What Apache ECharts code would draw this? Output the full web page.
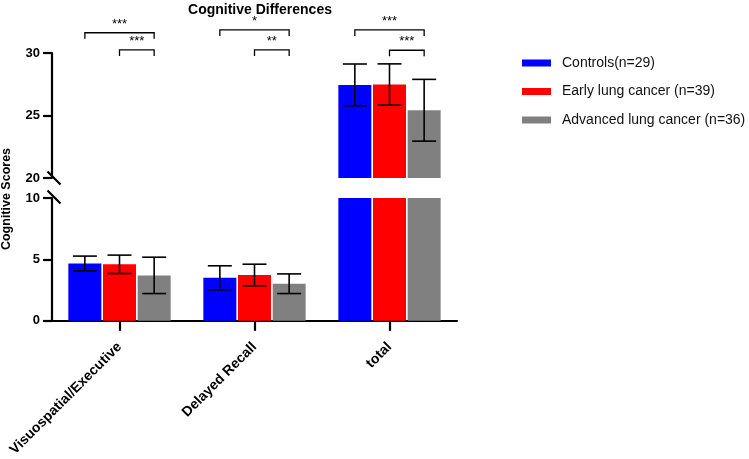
<!DOCTYPE html>
<html>
<head>
<meta charset="utf-8">
<script src="https://cdn.jsdelivr.net/npm/echarts@6/dist/echarts.min.js"></script>
<style>html,body{margin:0;padding:0;background:#fff;}#c{width:749px;height:459px;}</style>
</head>
<body>
<div id="c"></div>
<script>
// ---- data ----
const categories = ['Visuospatial/Executive', 'Delayed Recall', 'total'];
const seriesNames = ['Controls(n=29)', 'Early lung cancer (n=39)', 'Advanced lung cancer (n=36)'];
const controlsMean = [4.67, 3.50, 27.45];
const controlsSD = [0.60, 0.98, 1.67];
const earlyMean = [4.60, 3.73, 27.48];
const earlySD = [0.75, 0.88, 1.65];
const advancedMean = [3.70, 3.02, 25.42];
const advancedSD = [1.48, 0.80, 2.47];
const upperTicks = [20, 25, 30];
const lowerTicks = [0, 5, 10];
// significance brackets
const sigCategory = [0, 0, 1, 1, 2, 2];
const sigFrom = [0, 1, 0, 1, 0, 1];
const sigTo = [2, 2, 2, 2, 2, 2];
const sigLevel = [31.62, 30.25, 31.85, 30.25, 31.85, 30.22];
const sigLabel = ['***', '***', '*', '**', '***', '***'];

// ---- style ----
const colors = ['#0000FF', '#FF0000', '#808080'];
const BAR_W = 33;
const GAP_RATIO = 0.05;
const FONT = 'Liberation Sans, Arial, sans-serif';

const means = [controlsMean, earlyMean, advancedMean];
const sds = [controlsSD, earlySD, advancedSD];

const chart = echarts.init(document.getElementById('c'), null, {renderer: 'canvas'});

function offsetFor(k) { return (k - 1) * (BAR_W + BAR_W * GAP_RATIO); }

function errorRender(k) {
  return function (params, api) {
    const c = api.value(0), v = api.value(1), sd = api.value(2);
    const cs = params.coordSys;
    const mid = api.coord([c, v]);
    if (mid[1] < cs.y - 1 || mid[1] > cs.y + cs.height + 1) return null;
    const x = mid[0] + offsetFor(k);
    const yHi = api.coord([c, v + sd])[1];
    const yLo = api.coord([c, v - sd])[1];
    const hw = 12;
    const st = {stroke: '#000', lineWidth: 1.6};
    return {type: 'group', children: [
      {type: 'line', shape: {x1: x, y1: yHi, x2: x, y2: yLo}, style: st},
      {type: 'line', shape: {x1: x - hw, y1: yHi, x2: x + hw, y2: yHi}, style: st},
      {type: 'line', shape: {x1: x - hw, y1: yLo, x2: x + hw, y2: yLo}, style: st}
    ]};
  };
}

function sigRender(params, api) {
  const i = params.dataIndex;
  const c = api.value(0);
  const p = api.coord([c, api.value(3)]);
  const x1 = p[0] + offsetFor(api.value(1));
  const x2 = p[0] + offsetFor(api.value(2));
  const y = p[1];
  const leg = 6;
  const st = {stroke: '#000', lineWidth: 1.3, fill: null};
  return {type: 'group', children: [
    {type: 'polyline', shape: {points: [[x1, y + leg], [x1, y], [x2, y], [x2, y + leg]]}, style: st},
    {type: 'text', x: (x1 + x2) / 2, y: y - 2, style: {text: sigLabel[i], fill: '#000', font: '13px ' + FONT, align: 'center', verticalAlign: 'bottom'}}
  ]};
}

const series = [];
[0, 1].forEach(function (g) {
  for (let k = 0; k < 3; k++) {
    series.push({
      type: 'bar', name: seriesNames[k], xAxisIndex: g, yAxisIndex: g,
      data: means[k], barWidth: BAR_W, barGap: (GAP_RATIO * 100) + '%',
      itemStyle: {color: colors[k]}, clip: true, silent: true
    });
  }
  for (let k = 0; k < 3; k++) {
    series.push({
      type: 'custom', name: 'err' + g + k, xAxisIndex: g, yAxisIndex: g, z: 5,
      renderItem: errorRender(k), silent: true,
      data: categories.map(function (_, i) { return [i, means[k][i], sds[k][i]]; })
    });
  }
});
series.push({
  type: 'custom', name: 'sig', xAxisIndex: 0, yAxisIndex: 0, z: 6, clip: false, silent: true,
  renderItem: sigRender,
  data: sigCategory.map(function (c, i) { return [c, sigFrom[i], sigTo[i], sigLevel[i]]; })
});

const axisLineStyle = {color: '#000', width: 2.2};
function yAxis(ticks, gridIndex) {
  return {
    type: 'value', gridIndex: gridIndex, min: ticks[0], max: ticks[ticks.length - 1],
    interval: ticks[1] - ticks[0],
    axisLine: {show: true, lineStyle: axisLineStyle},
    axisTick: {show: true, length: 9, lineStyle: axisLineStyle},
    axisLabel: {color: '#000', fontWeight: 'bold', fontSize: 13, fontFamily: FONT, margin: 12},
    splitLine: {show: false}
  };
}

const option = {
  animation: false,
  backgroundColor: '#fff',
  title: {
    text: 'Cognitive Differences', left: 255, top: -2, textAlign: 'center',
    textStyle: {fontSize: 14, fontWeight: 'bold', fontFamily: FONT, color: '#000'}
  },
  legend: {
    data: seriesNames, orient: 'vertical', left: 517, top: 51,
    itemWidth: 29, itemHeight: 7, itemGap: 14.5, icon: 'rect',
    textStyle: {fontSize: 14, fontFamily: FONT, color: '#111', padding: [0, 0, 0, 6]}
  },
  grid: [
    {left: 52, right: 292, top: 53, height: 125},
    {left: 52, right: 292, top: 198, height: 124}
  ],
  xAxis: [
    {type: 'category', gridIndex: 0, data: categories, show: false},
    {type: 'category', gridIndex: 1, data: categories,
      axisLine: {show: true, lineStyle: axisLineStyle},
      axisTick: {show: true, alignWithLabel: true, length: 10, lineStyle: axisLineStyle},
      axisLabel: {rotate: 45, color: '#000', fontWeight: 'bold', fontSize: 14, fontFamily: FONT, margin: 24, interval: 0}
    }
  ],
  yAxis: [yAxis(upperTicks, 0), yAxis(lowerTicks, 1)],
  graphic: [
    {type: 'text', x: 7, y: 199, rotation: Math.PI / 2,
      style: {text: 'Cognitive Scores', font: 'bold 12.5px ' + FONT, fill: '#000', align: 'center', verticalAlign: 'middle'}},
    {type: 'line', shape: {x1: 47.5, y1: 171.5, x2: 60.5, y2: 184.5}, style: {stroke: '#000', lineWidth: 2.2}},
    {type: 'line', shape: {x1: 47.5, y1: 190.5, x2: 60.5, y2: 203.5}, style: {stroke: '#000', lineWidth: 2.2}}
  ],
  series: series
};
chart.setOption(option);
</script>
</body>
</html>
